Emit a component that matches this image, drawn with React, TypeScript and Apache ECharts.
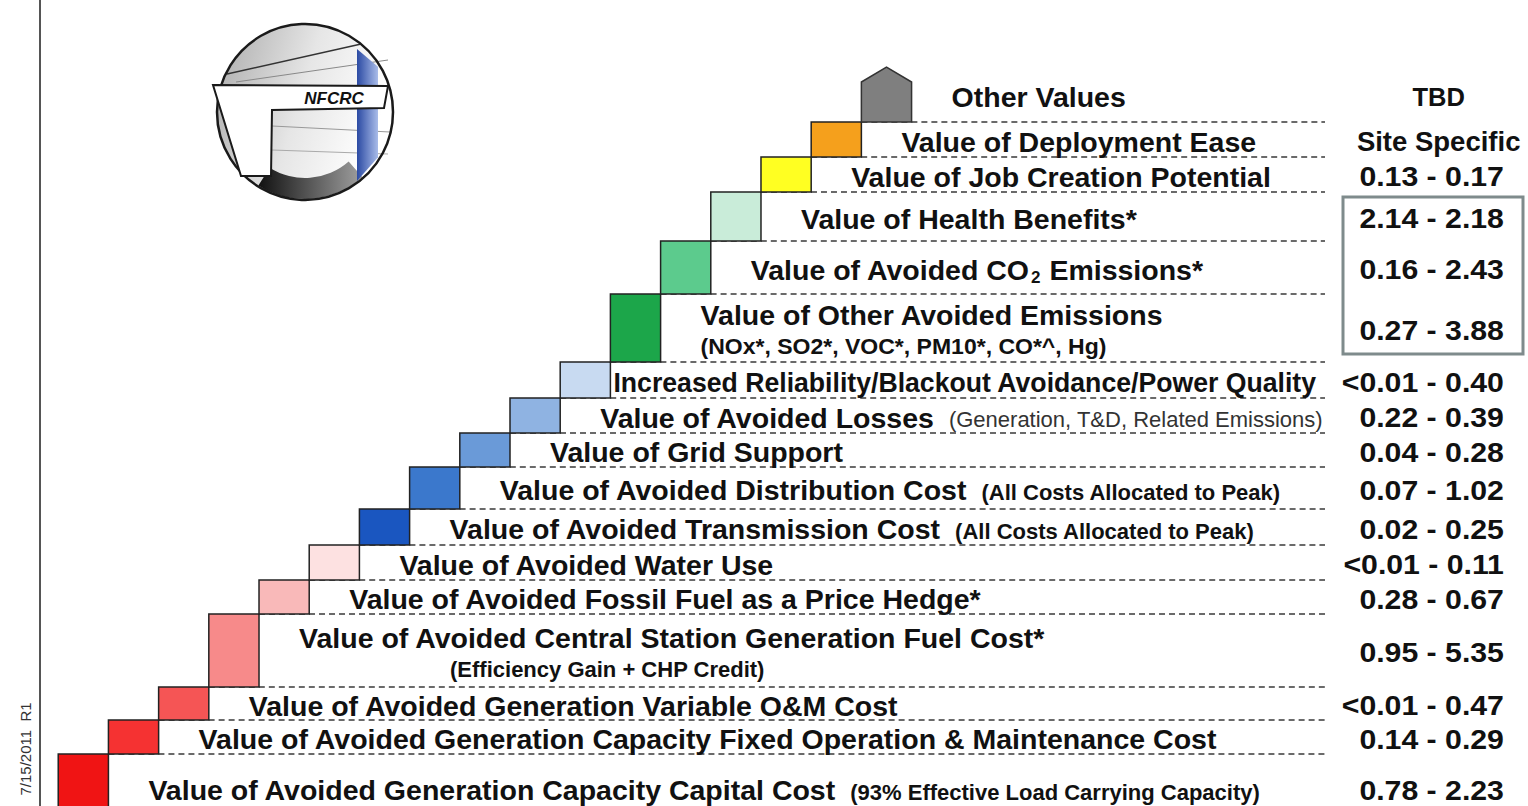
import React, { useEffect, useRef } from "react";
import * as echarts from "echarts";

// ---------- data (bottom step first) ----------
const labels = [
  "Value of Avoided Generation Capacity Capital Cost",
  "Value of Avoided Generation Capacity Fixed Operation & Maintenance Cost",
  "Value of Avoided Generation Variable O&M Cost",
  "Value of Avoided Central Station Generation Fuel Cost*",
  "Value of Avoided Fossil Fuel as a Price Hedge*",
  "Value of Avoided Water Use",
  "Value of Avoided Transmission Cost",
  "Value of Avoided Distribution Cost",
  "Value of Grid Support",
  "Value of Avoided Losses",
  "Increased Reliability/Blackout Avoidance/Power Quality",
  "Value of Other Avoided Emissions",
  "Value of Avoided CO₂ Emissions*",
  "Value of Health Benefits*",
  "Value of Job Creation Potential",
  "Value of Deployment Ease",
  "Other Values",
];
const notes = [
  "(93% Effective Load Carrying Capacity)",
  "",
  "",
  "(Efficiency Gain + CHP Credit)",
  "",
  "",
  "(All Costs Allocated to Peak)",
  "(All Costs Allocated to Peak)",
  "",
  "(Generation, T&D, Related Emissions)",
  "",
  "(NOx*, SO2*, VOC*, PM10*, CO*^, Hg)",
  "",
  "",
  "",
  "",
  "",
];
const ranges = [
  "0.78 - 2.23",
  "0.14 - 0.29",
  "<0.01 - 0.47",
  "0.95 - 5.35",
  "0.28 - 0.67",
  "<0.01 - 0.11",
  "0.02 - 0.25",
  "0.07 - 1.02",
  "0.04 - 0.28",
  "0.22 - 0.39",
  "<0.01 - 0.40",
  "0.27 - 3.88",
  "0.16 - 2.43",
  "2.14 - 2.18",
  "0.13 - 0.17",
  "Site Specific",
  "TBD",
];
const stepHeights = [68, 34, 33, 73, 34, 35, 36, 42, 34, 35, 36, 68, 53, 49, 35, 35, 55];
const stepColors = [
  "#f01414", "#f53232", "#f55555", "#f78a8a", "#f9b9b9", "#fde1e1",
  "#1a56c0", "#3b78cc", "#6a9ad8", "#8fb3e2", "#c8daf1",
  "#1ca64a", "#5ccb8d", "#c9ecd9", "#ffff22", "#f5a01c", "#7f7f7f",
];
const dateStamp = "7/15/2011  R1";
const logoText = "NFCRC";

// ---------- layout / style ----------
const FONT = "Liberation Sans, Arial, Helvetica, sans-serif";
const MAIN_SIZE = 28.5;
const BASE = -16;
const ROOF = 15;
const X_MIN = -1.16;
const X_MAX = 29.28;
const DASH_END = 25.236;
const LABEL_GAP = 40;
const secondLineNotes: Record<number, number> = { 3: 151, 11: 0 };
const fitMain: Record<number, { gap: number; width: number }> = { 10: { gap: 3, width: 704 } };
const fitNote: Record<number, number> = { 11: 406 };
const regularNotes = new Set([9]);

const canvas = typeof document !== "undefined" ? document.createElement("canvas") : null;
const ctx = canvas ? canvas.getContext("2d") : null;
function measure(text: string, size: number, weight: string) {
  if (!ctx) return text.length * size * 0.55;
  ctx.font = `${weight} ${size}px ${FONT}`;
  return ctx.measureText(text).width;
}

function txt(text: string, x: number, y: number, size: number, weight: string, fill: string, align = "left", extra: any = {}) {
  return {
    type: "text",
    x,
    y,
    ...extra,
    style: {
      text,
      fill,
      fontSize: size,
      fontWeight: weight,
      fontFamily: FONT,
      textAlign: align,
      align,
      textVerticalAlign: "middle",
      verticalAlign: "middle",
    },
  };
}

// logo geometry helpers
const LC = { cx: 305, cy: 112, r: 88 };
function circleY(x: number, top: boolean) {
  const d = Math.sqrt(Math.max(0, LC.r * LC.r - (x - LC.cx) * (x - LC.cx)));
  return top ? LC.cy - d : LC.cy + d;
}

export default function App() {
  const ref = useRef<HTMLDivElement>(null);

  useEffect(() => {
    if (!ref.current) return;
    const chart = echarts.init(ref.current, null, { renderer: "svg" });

    const bottoms: number[] = [];
    let acc = BASE;
    stepHeights.forEach((h) => {
      bottoms.push(acc);
      acc += h;
    });
    const data = stepHeights.map((h, i) => [i, bottoms[i], bottoms[i] + h]);
    const last = stepHeights.length - 1;

    const renderItem = (params: any, api: any) => {
      const i = api.value(0);
      const b = api.value(1);
      const t = api.value(2);
      const pLB = api.coord([i, b]);
      const pRT = api.coord([i + 1, t]);
      const x0 = pLB[0];
      const x1 = pRT[0];
      const yb = pLB[1];
      const yt = pRT[1];
      const mid = (yb + yt) / 2;
      const children: any[] = [];

      if (i < last) {
        const xe = api.coord([DASH_END, t])[0];
        children.push({
          type: "line",
          shape: { x1, y1: yt, x2: xe, y2: yt },
          style: { stroke: "#3a3a3a", lineWidth: 1.5, lineDash: [6, 4] },
        });
      }

      if (i === last) {
        const ys = api.coord([i, t - ROOF])[1];
        children.push({
          type: "polygon",
          shape: { points: [[x0, yb], [x1, yb], [x1, ys], [(x0 + x1) / 2, yt], [x0, ys]] },
          style: { fill: stepColors[i], stroke: "#333", lineWidth: 1.5 },
        });
      } else {
        children.push({
          type: "rect",
          shape: { x: x0, y: yt, width: x1 - x0, height: yb - yt },
          style: { fill: stepColors[i], stroke: "#222", lineWidth: 1.5 },
        });
      }

      // label
      const two = secondLineNotes[i] !== undefined;
      const fm = fitMain[i];
      const lx = x1 + (fm ? fm.gap : LABEL_GAP);
      const ly = two ? mid - 13 : mid + 2;
      const label = labels[i];
      let endX = lx;
      if (label.includes("₂")) {
        const [a, c] = label.split("₂");
        const wa = measure(a, MAIN_SIZE, "bold");
        children.push(txt(a, lx, ly, MAIN_SIZE, "bold", "#111"));
        children.push(txt("2", lx + wa + 1, ly + 8, 17, "bold", "#111"));
        const w2 = measure("2", 17, "bold");
        children.push(txt(c, lx + wa + w2 + 2, ly, MAIN_SIZE, "bold", "#111"));
      } else if (fm) {
        const w = measure(label, MAIN_SIZE, "bold");
        children.push(txt(label, lx, ly, MAIN_SIZE, "bold", "#111", "left", { scaleX: fm.width / w }));
        endX = lx + fm.width;
      } else {
        children.push(txt(label, lx, ly, MAIN_SIZE, "bold", "#111"));
        endX = lx + measure(label, MAIN_SIZE, "bold");
      }

      const note = notes[i];
      if (note) {
        const weight = regularNotes.has(i) ? "normal" : "bold";
        const fill = regularNotes.has(i) ? "#333" : "#111";
        if (two) {
          const nx = lx + secondLineNotes[i];
          const fw = fitNote[i];
          const extra = fw ? { scaleX: fw / measure(note, 22, weight) } : {};
          children.push(txt(note, nx, mid + 19, 22, weight, fill, "left", extra));
        } else {
          children.push(txt(note, endX + 14, ly + 2, 22, weight, fill));
        }
      }

      // value range
      const r = ranges[i];
      const numeric = /\d/.test(r);
      if (numeric) {
        children.push(txt(r, api.coord([28.8, t])[0], mid + 2, 28, "bold", "#111", "right", { scaleX: 1.08 }));
      } else {
        children.push(txt(r, api.coord([27.5, t])[0], mid + 2, r.length > 4 ? 27.5 : 25.5, "bold", "#111", "center"));
      }

      return { type: "group", children };
    };

    const pillarL = 357;
    const pillarR = 378;

    const option: any = {
      animation: false,
      backgroundColor: "#ffffff",
      grid: { left: 0, right: 0, top: 0, bottom: 0 },
      xAxis: { type: "value", min: X_MIN, max: X_MAX, show: false },
      yAxis: { type: "value", min: 0, max: 806, show: false },
      series: [
        {
          type: "custom",
          clip: false,
          renderItem,
          encode: { x: 0, y: [1, 2] },
          data,
        },
      ],
      graphic: [
        // left rule
        { type: "line", shape: { x1: 40, y1: 0, x2: 40, y2: 806 }, style: { stroke: "#555", lineWidth: 2 } },
        {
          type: "text",
          x: 25,
          y: 749,
          rotation: Math.PI / 2,
          style: {
            text: dateStamp,
            fill: "#333",
            fontSize: 15,
            fontFamily: FONT,
            textAlign: "center",
            align: "center",
            textVerticalAlign: "middle",
            verticalAlign: "middle",
          },
        },
        // highlighted box
        {
          type: "rect",
          shape: { x: 1343, y: 197, width: 180, height: 157 },
          style: { fill: "none", stroke: "#7f8b8c", lineWidth: 3 },
        },
        // logo
        {
          type: "group",
          children: [
            {
              type: "circle",
              shape: { cx: LC.cx, cy: LC.cy, r: LC.r },
              style: {
                fill: {
                  type: "linear", x: 0, y: 0, x2: 1, y2: 0.3,
                  colorStops: [
                    { offset: 0, color: "#a9a9a9" },
                    { offset: 0.55, color: "#e6e6e6" },
                    { offset: 1, color: "#ffffff" },
                  ],
                },
                stroke: "none",
              },
            },
            { type: "line", shape: { x1: 227, y1: 74, x2: 360, y2: circleY(360, true) + 1 }, style: { stroke: "#333", lineWidth: 1.5 } },
            { type: "line", shape: { x1: 236, y1: 82, x2: 388, y2: 60 }, style: { stroke: "#888", lineWidth: 1 } },
            { type: "line", shape: { x1: 272, y1: 126, x2: 390, y2: 132 }, style: { stroke: "#999", lineWidth: 1 } },
            { type: "line", shape: { x1: 272, y1: 150, x2: 388, y2: 154 }, style: { stroke: "#aaa", lineWidth: 1 } },
            {
              type: "sector",
              shape: { cx: LC.cx, cy: LC.cy, r0: 66, r: 87, startAngle: Math.PI * 0.27, endAngle: Math.PI * 0.68 },
              style: {
                fill: {
                  type: "linear", x: 0, y: 0, x2: 1, y2: 0,
                  colorStops: [
                    { offset: 0, color: "#111" },
                    { offset: 1, color: "#a0a0a0" },
                  ],
                },
              },
            },
            {
              type: "polygon",
              shape: {
                points: [
                  [pillarL, circleY(pillarL, true) + 8],
                  [pillarR, circleY(pillarR, true) + 4],
                  [pillarR, circleY(pillarR, false) - 4],
                  [pillarL, circleY(pillarL, false) - 2],
                ],
              },
              style: {
                fill: {
                  type: "linear", x: 0, y: 0, x2: 1, y2: 0,
                  colorStops: [
                    { offset: 0, color: "#2b4aa3" },
                    { offset: 1, color: "#a9bce9" },
                  ],
                },
              },
            },
            {
              type: "circle",
              shape: { cx: LC.cx, cy: LC.cy, r: LC.r },
              style: { fill: "none", stroke: "#1a1a1a", lineWidth: 2.5 },
            },
            {
              type: "polygon",
              shape: { points: [[213, 85], [388, 86], [384, 108], [272, 110], [271, 176], [241, 176]] },
              style: { fill: "#ffffff", stroke: "#1a1a1a", lineWidth: 2 },
            },
            {
              type: "text",
              x: 334,
              y: 98,
              style: {
                text: logoText,
                fill: "#111",
                fontSize: 17,
                fontWeight: "bold",
                fontStyle: "italic",
                fontFamily: FONT,
                textAlign: "center",
                align: "center",
                textVerticalAlign: "middle",
                verticalAlign: "middle",
              },
            },
          ],
        },
      ],
    };

    chart.setOption(option);
    return () => chart.dispose();
  }, []);

  return (
    <div
      ref={ref}
      style={{ position: "absolute", left: 0, top: 0, width: 1528, height: 806, background: "#fff" }}
    />
  );
}
